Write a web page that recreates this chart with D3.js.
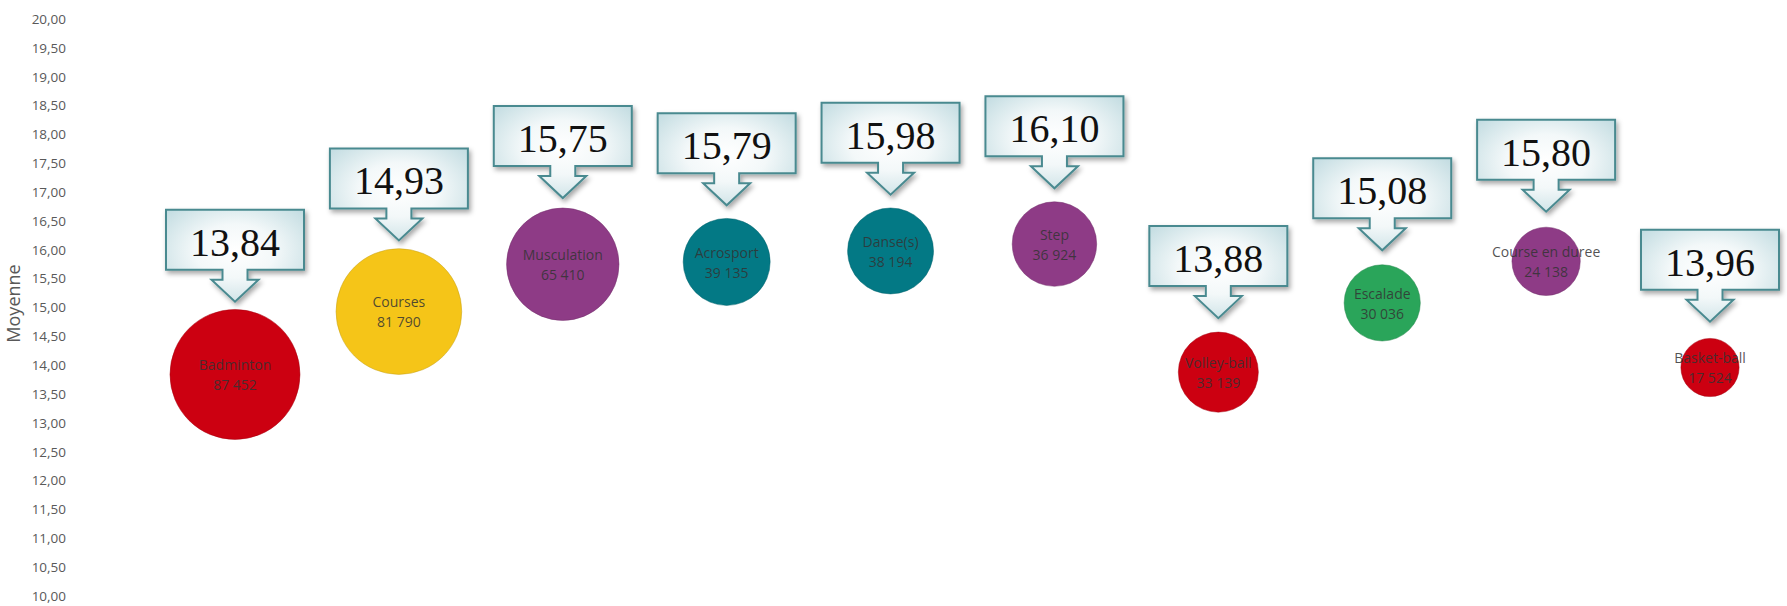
<!DOCTYPE html>
<html>
<head>
<meta charset="utf-8">
<script src="https://cdn.jsdelivr.net/npm/d3@7"></script>
<style>
  html, body { margin: 0; padding: 0; background: #fff; }
  svg { display: block; }
</style>
</head>
<body>
<svg id="chart" width="1787" height="606"></svg>
<script>
// ---- data ----
const categories = ["Badminton", "Courses", "Musculation", "Acrosport", "Danse(s)", "Step", "Volley-ball", "Escalade", "Course en duree", "Basket-ball"];
const moyennes   = [13.84, 14.93, 15.75, 15.79, 15.98, 16.10, 13.88, 15.08, 15.80, 13.96];
const effectifs  = [87452, 81790, 65410, 39135, 38194, 36924, 33139, 30036, 24138, 17524];
const rangs      = [1, 2, 3, 4, 5, 6, 7, 8, 9, 10];
const groupes    = ["CP4", "CP1", "CP5", "CP3", "CP3", "CP5", "CP4", "CP2", "CP5", "CP4"];
const yTicks     = d3.range(10, 20.001, 0.5);
const yTitle     = "Moyenne";

// ---- layout / style ----
const W = 1787, H = 606;
const palette = d3.scaleOrdinal()
  .domain(["CP1", "CP2", "CP3", "CP4", "CP5"])
  .range(["#F5C518", "#2AA55A", "#037985", "#CC0011", "#8E3B86"]);

const svg = d3.select("#chart");

const x = d3.scaleLinear().domain([1, 10]).range([235, 1710]);
const y = d3.scaleLinear().domain([10, 20]).range([596, 19]);
const r = d3.scaleSqrt().domain([0, d3.max(effectifs)]).range([0, 65]);

const fmt = d => d.toFixed(2).replace(".", ",");
const fmtN = d => d3.format(",")(d).replace(/,/g, " ");

// defs
const defs = svg.append("defs");
const grad = defs.append("radialGradient").attr("id", "boxGrad")
  .attr("cx", "50%").attr("cy", "45%").attr("r", "65%");
grad.append("stop").attr("offset", "0%").attr("stop-color", "#ffffff");
grad.append("stop").attr("offset", "45%").attr("stop-color", "#f3f8f9");
grad.append("stop").attr("offset", "100%").attr("stop-color", "#c4dde2");

const shadow = defs.append("filter").attr("id", "shadow")
  .attr("x", "-20%").attr("y", "-20%").attr("width", "150%").attr("height", "150%");
shadow.append("feDropShadow").attr("dx", 2).attr("dy", 3)
  .attr("stdDeviation", 2.5).attr("flood-color", "#000").attr("flood-opacity", 0.35);

// y axis
const yAxis = d3.axisLeft(y)
  .tickValues(yTicks)
  .tickFormat(fmt)
  .tickSize(0)
  .tickPadding(0);

const gy = svg.append("g").attr("transform", "translate(66,0)").call(yAxis);
gy.select(".domain").remove();
gy.selectAll("text")
  .attr("fill", "#595959")
  .style("font-family", "'Open Sans', 'Noto Sans', sans-serif")
  .style("font-size", "13.5px");

svg.append("text")
  .attr("transform", "translate(20," + (y(15) - 4) + ") rotate(-90)")
  .attr("text-anchor", "middle")
  .attr("fill", "#595959")
  .style("font-family", "'Open Sans', 'Noto Sans', sans-serif")
  .style("font-size", "18px")
  .text(yTitle);

// data records
const data = categories.map((c, i) => ({
  name: c, m: moyennes[i], n: effectifs[i], k: rangs[i], g: groupes[i]
}));

// bubbles
const bub = svg.append("g").selectAll("g").data(data).join("g")
  .attr("transform", d => `translate(${x(d.k)},${y(d.m)})`);

bub.append("circle")
  .attr("r", d => r(d.n))
  .attr("fill", d => palette(d.g))
  .attr("stroke", d => d3.color(palette(d.g)).darker(0.6))
  .attr("stroke-width", 1)
  .attr("stroke-opacity", 0.5);

const lbl = bub.append("text")
  .attr("text-anchor", "middle")
  .attr("fill", "#333")
  .attr("fill-opacity", 0.85)
  .style("font-family", "'Open Sans', 'Noto Sans', sans-serif")
  .style("font-size", "14px");
lbl.append("tspan").attr("x", 0).attr("y", -9).attr("dy", "0.35em").text(d => d.name);
lbl.append("tspan").attr("x", 0).attr("y", 11).attr("dy", "0.35em").text(d => fmtN(d.n));

// callouts
const boxW = 138, boxH = 60, stemW = 25, stemH = 10, headW = 47, headH = 22;
const gapFor = rad => 24 - 0.25 * rad;

function calloutPath(cx, tip) {
  const bottom = tip - headH - stemH;
  const top = bottom - boxH;
  const l = cx - boxW / 2, rr = cx + boxW / 2;
  return `M${l},${top}H${rr}V${bottom}H${cx + stemW / 2}V${bottom + stemH}H${cx + headW / 2}` +
         `L${cx},${tip}L${cx - headW / 2},${bottom + stemH}H${cx - stemW / 2}V${bottom}H${l}Z`;
}
const tipY = d => y(d.m) - r(d.n) - gapFor(r(d.n));

const call = svg.append("g").selectAll("g").data(data).join("g");
call.append("path")
  .attr("d", d => calloutPath(x(d.k), tipY(d)))
  .attr("fill", "url(#boxGrad)")
  .attr("stroke", "#4A8A90")
  .attr("stroke-width", 2)
  .attr("stroke-linejoin", "miter")
  .attr("filter", "url(#shadow)");

call.append("text")
  .attr("x", d => x(d.k))
  .attr("y", d => tipY(d) - headH - stemH - boxH + 46)
  .attr("text-anchor", "middle")
  .attr("fill", "#111")
  .style("font-family", "'Liberation Serif', 'DejaVu Serif', serif")
  .style("font-size", "40px")
  .text(d => fmt(d.m));
</script>
</body>
</html>
